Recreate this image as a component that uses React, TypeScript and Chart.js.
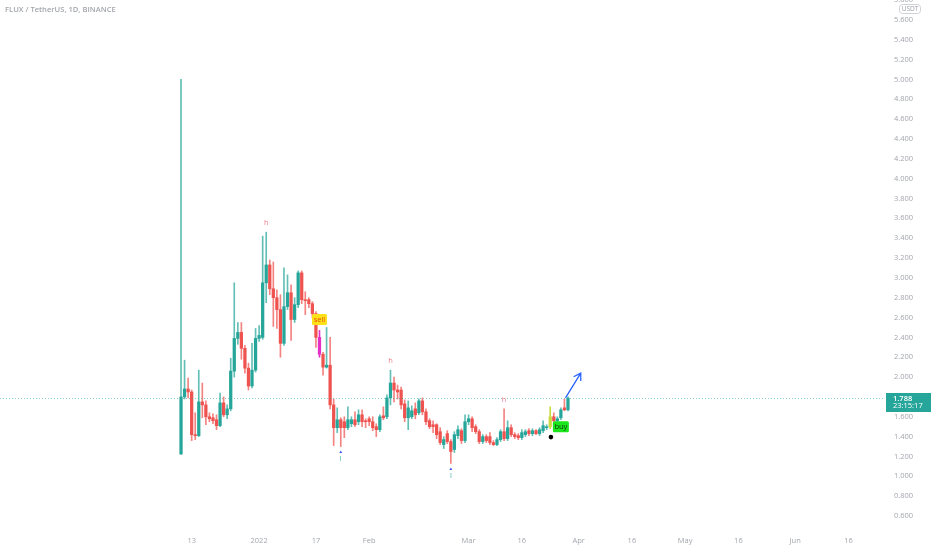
import React, { useEffect, useRef } from "react";
import { Chart, registerables } from "chart.js";

Chart.register(...registerables);

// ---- data (daily candles, index 0 = 10 Dec 2021) ----
const opens = [
  1.225, 1.8, 1.88, 1.85, 1.42, 1.41, 1.75, 1.72, 1.6, 1.59,
  1.57, 1.51, 1.74, 1.62, 1.68, 2.06, 2.39, 2.45, 2.29, 2.09,
  1.91, 2.07, 2.39, 2.4, 2.95, 3.13, 2.89, 2.8, 2.68, 2.34,
  2.71, 2.85, 2.58, 2.73, 3.05, 2.78, 2.78, 2.74, 2.64, 2.4,
  2.23, 2.1, 2.12, 1.72, 1.49, 1.57, 1.55, 1.49, 1.53, 1.57,
  1.55, 1.62, 1.56, 1.58, 1.55, 1.5, 1.47, 1.61, 1.6, 1.79,
  1.94, 1.87, 1.87, 1.73, 1.59, 1.6, 1.68, 1.64, 1.76, 1.65,
  1.56, 1.52, 1.52, 1.45, 1.32, 1.43, 1.35, 1.27, 1.41, 1.46,
  1.36, 1.55, 1.58, 1.5, 1.45, 1.35, 1.4, 1.4, 1.34, 1.32,
  1.37, 1.45, 1.38, 1.49, 1.42, 1.41, 1.39, 1.42, 1.46, 1.43,
  1.46, 1.43, 1.46, 1.49, 1.5, 1.6, 1.56, 1.59, 1.69, 1.67,
];
const highs = [
  5.0, 2.17, 1.99, 1.87, 1.64, 2.07, 1.94, 1.76, 1.64, 1.63,
  1.62, 1.84, 1.8, 1.72, 2.19, 2.95, 2.55, 2.55, 2.32, 2.14,
  2.34, 2.49, 2.52, 3.42, 3.46, 3.18, 3.16, 2.88, 2.83, 3.1,
  3.03, 2.93, 2.8, 3.07, 3.07, 2.86, 2.8, 2.76, 2.66, 2.47,
  2.25, 2.5, 2.4, 1.78, 1.69, 1.59, 1.6, 1.7, 1.6, 1.65,
  1.67, 1.67, 1.58, 1.6, 1.6, 1.53, 1.62, 1.7, 1.82, 2.07,
  2.0, 1.92, 1.9, 1.77, 1.76, 1.71, 1.74, 1.78, 1.79, 1.68,
  1.58, 1.56, 1.53, 1.49, 1.4, 1.46, 1.37, 1.45, 1.51, 1.48,
  1.62, 1.62, 1.6, 1.52, 1.47, 1.42, 1.42, 1.44, 1.36, 1.39,
  1.47, 1.68, 1.56, 1.52, 1.44, 1.43, 1.47, 1.47, 1.48, 1.48,
  1.47, 1.49, 1.56, 1.52, 1.7, 1.64, 1.6, 1.69, 1.78, 1.8,
];
const lows = [
  1.22, 1.78, 1.79, 1.36, 1.37, 1.4, 1.59, 1.52, 1.55, 1.53,
  1.47, 1.5, 1.6, 1.58, 1.66, 2.0, 2.33, 2.18, 2.04, 1.87,
  1.89, 2.05, 2.36, 2.38, 2.75, 2.83, 2.51, 2.49, 2.2, 2.32,
  2.68, 2.37, 2.55, 2.7, 2.74, 2.63, 2.7, 2.6, 2.3, 2.2,
  2.02, 2.09, 1.68, 1.31, 1.44, 1.3, 1.39, 1.47, 1.5, 1.5,
  1.52, 1.5, 1.49, 1.51, 1.46, 1.4, 1.45, 1.57, 1.58, 1.72,
  1.75, 1.78, 1.68, 1.55, 1.47, 1.58, 1.58, 1.62, 1.62, 1.52,
  1.48, 1.44, 1.38, 1.32, 1.28, 1.33, 1.13, 1.24, 1.38, 1.33,
  1.34, 1.52, 1.45, 1.43, 1.33, 1.33, 1.34, 1.32, 1.31, 1.31,
  1.35, 1.36, 1.36, 1.4, 1.38, 1.37, 1.37, 1.4, 1.41, 1.41,
  1.42, 1.41, 1.44, 1.47, 1.48, 1.52, 1.55, 1.57, 1.66, 1.66,
];
const closes = [
  1.8, 1.88, 1.85, 1.42, 1.41, 1.75, 1.72, 1.6, 1.58, 1.56,
  1.51, 1.74, 1.62, 1.68, 2.06, 2.39, 2.45, 2.29, 2.09, 1.91,
  2.07, 2.39, 2.42, 2.95, 3.13, 2.89, 2.8, 2.68, 2.34, 2.71,
  2.85, 2.58, 2.73, 3.05, 2.78, 2.77, 2.74, 2.64, 2.4, 2.23,
  2.1, 2.12, 1.72, 1.49, 1.57, 1.49, 1.49, 1.57, 1.57, 1.52,
  1.62, 1.55, 1.55, 1.55, 1.49, 1.47, 1.6, 1.59, 1.79, 1.94,
  1.87, 1.85, 1.72, 1.59, 1.69, 1.66, 1.62, 1.76, 1.65, 1.55,
  1.5, 1.5, 1.42, 1.34, 1.37, 1.35, 1.25, 1.42, 1.47, 1.36,
  1.55, 1.58, 1.49, 1.45, 1.35, 1.4, 1.36, 1.34, 1.32, 1.37,
  1.45, 1.38, 1.49, 1.42, 1.4, 1.39, 1.44, 1.45, 1.43, 1.46,
  1.43, 1.47, 1.51, 1.5, 1.6, 1.56, 1.58, 1.67, 1.67, 1.788,
];

const specialCandles = [39, 104];
const specialColors = ["#e62fc6", "#c9d93f"];

const xTickPositions = [3, 22, 38, 53, 81, 96, 112, 127, 142, 157, 173, 188];
const xTickLabels = ["13", "2022", "17", "Feb", "Mar", "16", "Apr", "16", "May", "16", "Jun", "16"];
const yTickValues = [
  0.6, 0.8, 1.0, 1.2, 1.4, 1.6, 1.8, 2.0, 2.2, 2.4, 2.6, 2.8, 3.0, 3.2,
  3.4, 3.6, 3.8, 4.0, 4.2, 4.4, 4.6, 4.8, 5.0, 5.2, 5.4, 5.6, 5.8,
];

const pivotHighs = [24, 59, 91];
const pivotLows = [45, 76];
const lastPrice = 1.788;
const countdown = "23:15:17";
const sellSignal = { x: 39, y: 2.58 };
const buySignal = { x: 107, y: 1.5 };
const buyDot = { x: 104.2, y: 1.395 };
const arrowFrom = { x: 108.3, y: 1.79 };
const arrowTo = { x: 112.6, y: 2.04 };
const title = "FLUX / TetherUS, 1D, BINANCE";
const currency = "USDT";

const UP = "#26a69a";
const DOWN = "#ef5350";
const UP_WICK = "rgba(38,166,154,0.72)";
const DOWN_WICK = "rgba(239,83,80,0.72)";
const FONT = "'Open Sans', 'DejaVu Sans', sans-serif";

function candleColor(i: number) {
  const k = specialCandles.indexOf(i);
  if (k >= 0) return specialColors[k];
  return closes[i] >= opens[i] ? UP : DOWN;
}

function wickColor(i: number) {
  const k = specialCandles.indexOf(i);
  if (k >= 0) return specialColors[k];
  return closes[i] >= opens[i] ? UP_WICK : DOWN_WICK;
}

const overlayPlugin = {
  id: "overlay",
  afterDatasetsDraw(chart: any) {
    const { ctx, chartArea, scales } = chart;
    const x = scales.x;
    const y = scales.y;
    ctx.save();

    // last price dotted line
    const py = Math.round(y.getPixelForValue(lastPrice)) + 0.5;
    ctx.strokeStyle = "rgba(38,166,154,0.55)";
    ctx.lineWidth = 1;
    ctx.setLineDash([1, 2]);
    ctx.beginPath();
    ctx.moveTo(chartArea.left, py);
    ctx.lineTo(chartArea.right, py);
    ctx.stroke();
    ctx.setLineDash([]);

    ctx.textAlign = "center";
    ctx.textBaseline = "middle";

    // pivot highs
    ctx.font = `7.5px ${FONT}`;
    ctx.fillStyle = "#ee7f8c";
    pivotHighs.forEach((i) => {
      ctx.fillText("h", x.getPixelForValue(i), y.getPixelForValue(highs[i]) - 9);
    });

    // pivot lows
    pivotLows.forEach((i) => {
      const px = x.getPixelForValue(i);
      const ly = y.getPixelForValue(lows[i]);
      ctx.fillStyle = "#3d5afe";
      ctx.beginPath();
      ctx.moveTo(px, ly + 4);
      ctx.lineTo(px + 1.5, ly + 6.5);
      ctx.lineTo(px - 1.5, ly + 6.5);
      ctx.closePath();
      ctx.fill();
      ctx.fillStyle = "#4db6ac";
      ctx.fillText("l", px, ly + 12);
    });

    // sell label
    {
      const sx = x.getPixelForValue(sellSignal.x);
      const sy = y.getPixelForValue(sellSignal.y);
      ctx.fillStyle = "#ffe11a";
      ctx.beginPath();
      ctx.roundRect(sx - 7.5, sy - 5.5, 15, 11, 1.5);
      ctx.fill();
      ctx.fillStyle = "#e65100";
      ctx.font = `7.5px ${FONT}`;
      ctx.fillText("sell", sx, sy);
    }

    // buy label
    {
      const bx = x.getPixelForValue(buySignal.x);
      const by = y.getPixelForValue(buySignal.y);
      ctx.fillStyle = "#1be61b";
      ctx.beginPath();
      ctx.roundRect(bx - 8, by - 5.5, 16, 11, 1.5);
      ctx.fill();
      ctx.fillStyle = "#10380f";
      ctx.font = `7.5px ${FONT}`;
      ctx.fillText("buy", bx, by);
      ctx.fillStyle = "#000000";
      ctx.beginPath();
      ctx.arc(x.getPixelForValue(buyDot.x), y.getPixelForValue(buyDot.y), 2.3, 0, Math.PI * 2);
      ctx.fill();
    }

    // arrow
    {
      const x1 = x.getPixelForValue(arrowFrom.x);
      const y1 = y.getPixelForValue(arrowFrom.y);
      const x2 = x.getPixelForValue(arrowTo.x);
      const y2 = y.getPixelForValue(arrowTo.y);
      ctx.strokeStyle = "#2962ff";
      ctx.lineWidth = 1.3;
      ctx.beginPath();
      ctx.moveTo(x1, y1);
      ctx.lineTo(x2, y2);
      const ang = Math.atan2(y2 - y1, x2 - x1);
      const hl = 8;
      ctx.moveTo(x2 + hl * Math.cos(ang + Math.PI - 0.55), y2 + hl * Math.sin(ang + Math.PI - 0.55));
      ctx.lineTo(x2, y2);
      ctx.lineTo(x2 + hl * Math.cos(ang + Math.PI + 0.55), y2 + hl * Math.sin(ang + Math.PI + 0.55));
      ctx.stroke();
    }

    ctx.restore();
  },
  afterDraw(chart: any) {
    const { ctx, scales } = chart;
    const y = scales.y;
    ctx.save();
    // price badge
    const py = Math.round(y.getPixelForValue(lastPrice));
    ctx.fillStyle = UP;
    ctx.fillRect(886, py - 5, 45, 19);
    ctx.fillStyle = "#ffffff";
    ctx.font = `600 7.5px ${FONT}`;
    ctx.textAlign = "left";
    ctx.textBaseline = "middle";
    ctx.fillText(lastPrice.toFixed(3), 893, py + 0.5);
    ctx.font = `7.5px ${FONT}`;
    ctx.fillText(countdown, 893, py + 8);

    // currency badge
    ctx.fillStyle = "#ffffff";
    ctx.strokeStyle = "#cfd1d6";
    ctx.lineWidth = 1;
    ctx.beginPath();
    ctx.roundRect(899.5, 4.5, 21, 9, 3);
    ctx.fill();
    ctx.stroke();
    ctx.fillStyle = "#9a9da5";
    ctx.font = `6.5px ${FONT}`;
    ctx.textAlign = "center";
    ctx.fillText(currency, 910, 9.2);

    // title
    ctx.textAlign = "left";
    ctx.fillStyle = "#a3a6ad";
    ctx.font = `600 7.6px ${FONT}`;
    ctx.fillText(title, 5, 10);
    ctx.restore();
  },
};

export default function App() {
  const ref = useRef<HTMLCanvasElement | null>(null);

  useEffect(() => {
    if (!ref.current) return;
    const colors = opens.map((_, i) => candleColor(i));
    const wickColors = opens.map((_, i) => wickColor(i));
    const chart = new Chart(ref.current, {
      type: "bar",
      data: {
        datasets: [
          {
            label: "bodies",
            data: opens.map((o, i) => ({ x: i, y: [o, closes[i]] })) as any,
            backgroundColor: colors,
            barThickness: 2.6,
            minBarLength: 1,
            grouped: false,
            order: 1,
          },
          {
            label: "wicks",
            data: opens.map((_, i) => ({ x: i, y: [lows[i], highs[i]] })) as any,
            backgroundColor: wickColors,
            barThickness: 1,
            grouped: false,
            order: 2,
          },
        ],
      },
      options: {
        animation: false,
        responsive: true,
        maintainAspectRatio: false,
        layout: { padding: 0 },
        plugins: { legend: { display: false }, tooltip: { enabled: false } },
        scales: {
          x: {
            type: "linear",
            min: -50.99,
            max: 198.3,
            offset: false,
            grid: { display: false, drawTicks: false },
            border: { display: false },
            afterBuildTicks: (s: any) => {
              s.ticks = xTickPositions.map((v) => ({ value: v }));
            },
            afterFit: (s: any) => {
              s.height = 20;
              s.paddingLeft = 0;
              s.paddingRight = 0;
            },
            ticks: {
              autoSkip: false,
              maxRotation: 0,
              padding: 6,
              color: "#a3a6ad",
              font: { family: FONT, size: 7.5 },
              callback: (v: any) => {
                const k = xTickPositions.indexOf(Number(v));
                return k >= 0 ? xTickLabels[k] : "";
              },
            },
          },
          y: {
            type: "linear",
            position: "right",
            min: 0.459,
            max: 5.8,
            grid: { display: false, drawTicks: false },
            border: { display: false },
            afterBuildTicks: (s: any) => {
              s.ticks = yTickValues.map((v) => ({ value: v }));
            },
            afterFit: (s: any) => {
              s.width = 47;
              s.paddingTop = 0;
              s.paddingBottom = 0;
            },
            ticks: {
              padding: 9,
              crossAlign: "near",
              color: "#a3a6ad",
              font: { family: FONT, size: 7.5 },
              callback: (v: any) => Number(v).toFixed(3),
            },
          },
        },
      },
      plugins: [overlayPlugin],
    });
    return () => chart.destroy();
  }, []);

  return (
    <div style={{ position: "absolute", left: 0, top: 0, width: 932, height: 550, background: "#ffffff" }}>
      <canvas ref={ref} />
    </div>
  );
}
